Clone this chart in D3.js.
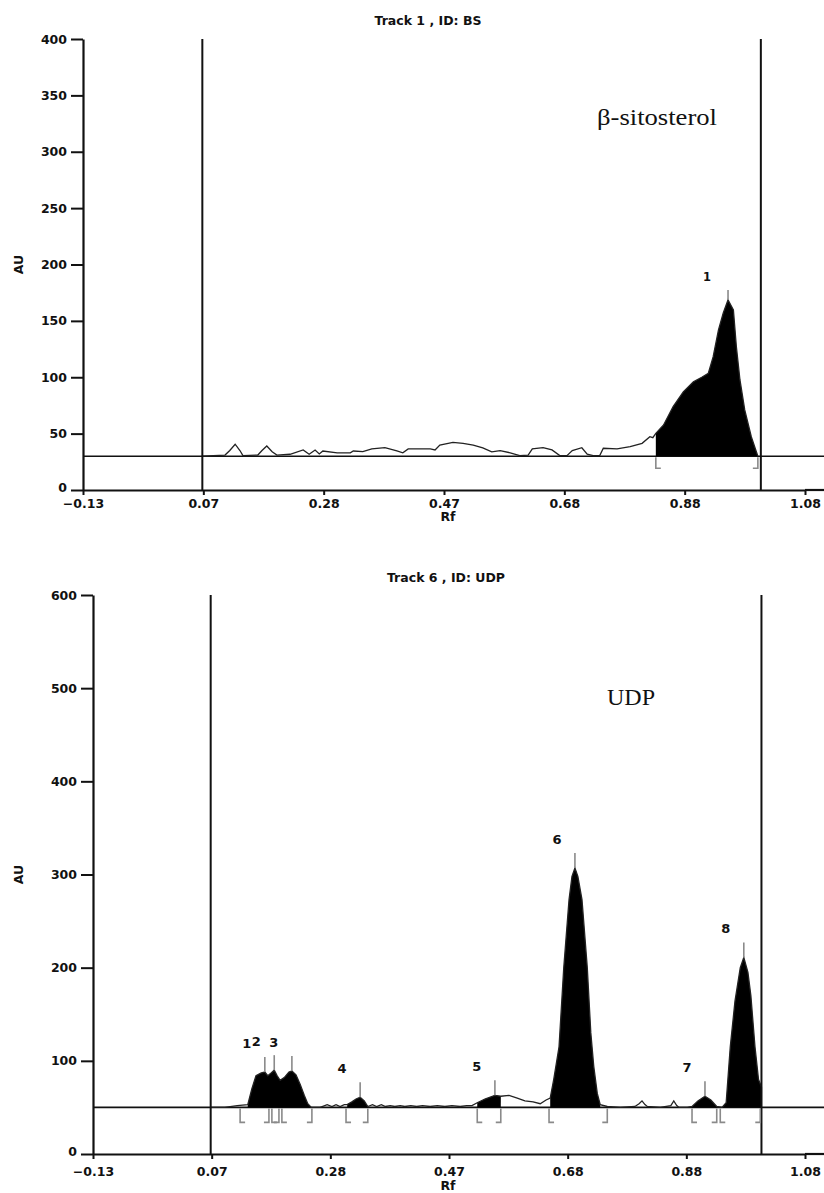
<!DOCTYPE html>
<html>
<head>
<meta charset="utf-8">
<script src="https://cdnjs.cloudflare.com/ajax/libs/d3/7.8.5/d3.min.js"></script>
<style>
body{margin:0;background:#fff;}
svg text{font-family:"DejaVu Sans",sans-serif;font-weight:bold;fill:#111;}
</style>
</head>
<body>
<div id="chart"></div>
<script>
// Rf axis (shared by both tracks)
const rfStart = -0.13, rfEnd = 1.08;
const rfTickLabels = ["\u22120.13","0.07","0.28","0.47","0.68","0.88","1.08"];
const rfLines = [0.07, 1.006];   // application line, solvent front

// Track 1 : beta-sitosterol
const bsTicks = [0,50,100,150,200,250,300,350,400];
const bsBaseline = 30;
const bsTrace = [
[0.069,30],[0.108,31],[0.116,35],[0.125,40.6],[0.133,35],[0.138,30.5],[0.163,31],[0.170,35],
[0.178,39],[0.187,34],[0.195,31],[0.217,31.7],[0.239,35.5],[0.249,31.7],[0.259,35.5],[0.266,32],
[0.272,34.6],[0.296,33],[0.318,33],[0.323,34.6],[0.339,34],[0.354,36.4],[0.376,37.5],[0.396,34.6],
[0.406,33],[0.415,36.4],[0.440,36.4],[0.452,36.4],[0.460,35.5],[0.468,39.9],[0.490,42.3],[0.507,41.4],
[0.524,39.9],[0.540,37.4],[0.555,33.8],[0.569,35],[0.586,33],[0.602,30.5],[0.616,31],[0.623,36.4],
[0.641,37.5],[0.656,35.5],[0.669,30.5],[0.681,30.5],[0.690,35],[0.706,37.5],[0.715,31.7],[0.725,30.5],
[0.736,30.5],[0.742,37],[0.765,36.4],[0.787,38.5],[0.807,41.4],[0.820,47.3],[0.825,46.4],
[0.830,50.3],[0.843,57.7],[0.859,74],[0.876,87],[0.893,96],[0.907,100],[0.918,103.5],[0.926,118],
[0.935,142],[0.943,157],[0.951,168.6],[0.960,159.8],[0.965,127],[0.971,97.6],[0.979,71],[0.990,47.3],
[1.001,30]
];
const bsFills = [[0.830,1.001]];
const bsBrackets = [[0.830,1.001]];
const bsPeaks = [{id:"1", rf:0.951, au:168.6}];

// Track 6 : UDP
const udpTicks = [0,100,200,300,400,500,600];
const udpBaseline = 50;
const udpTrace = [
[0.070,50],[0.094,50],[0.115,52],[0.133,53],[0.140,70],[0.147,84],[0.156,87],[0.162,88],
[0.167,84],[0.171,86],[0.178,90],[0.183,84],[0.188,79],[0.195,82],[0.203,88],[0.208,89],
[0.215,85],[0.222,75],[0.229,63],[0.235,54],[0.241,50],[0.256,50],[0.268,53],[0.276,51],
[0.283,53],[0.290,51],[0.297,53],[0.302,53],[0.310,56],[0.317,59],[0.324,61],[0.331,57],
[0.337,51],[0.345,53],[0.352,51],[0.360,53],[0.367,51],[0.375,52],[0.383,51],[0.392,52],
[0.400,51],[0.410,52],[0.420,51],[0.430,52],[0.443,51],[0.455,52],[0.468,51],[0.480,52],
[0.494,51],[0.505,52],[0.514,52],[0.523,55],[0.536,59],[0.553,63],[0.563,62],[0.577,63],
[0.591,60],[0.604,57],[0.618,56],[0.630,54],[0.640,58],[0.647,60],[0.653,80],[0.662,115],
[0.670,200],[0.679,273],[0.684,298],[0.689,307],[0.694,298],[0.701,273],[0.710,200],[0.716,130],
[0.721,94],[0.727,65],[0.732,53],[0.744,51],[0.766,50],[0.791,51],[0.798,54],[0.803,57],
[0.808,53],[0.812,51],[0.834,50],[0.852,52],[0.857,57],[0.862,52],[0.866,50],[0.880,50],
[0.888,51],[0.898,57],[0.910,62],[0.920,58],[0.930,51],[0.939,50],[0.946,55],[0.953,115],
[0.961,164],[0.970,200],[0.976,211],[0.983,195],[0.988,170],[0.995,115],[1.001,80],[1.006,72],
[1.006,50]
];
const udpFills = [[0.133,0.241],[0.302,0.337],[0.523,0.563],[0.647,0.732],[0.888,0.930],[0.939,1.006]];
const udpBrackets = [[0.120,0.169],[0.174,0.186],[0.191,0.242],[0.300,0.337],[0.523,0.563],
                     [0.645,0.744],[0.888,0.930],[0.936,1.004]];
const udpPeaks = [
{id:"1", rf:0.162, au:88},{id:"2", rf:0.178, au:90},{id:"3", rf:0.208, au:89},
{id:"4", rf:0.324, au:61},{id:"5", rf:0.553, au:63},{id:"6", rf:0.689, au:307},
{id:"7", rf:0.910, au:62},{id:"8", rf:0.976, au:211}
];


const W = 824, H = 1193;
const svg = d3.select("#chart").append("svg")
  .attr("width", W).attr("height", H);


function createChart(o){

const g = svg.append("g");

// scales
const x = d3.scaleLinear().domain([rfStart, rfEnd]).range([o.left, 805]);
const y = d3.scaleLinear().domain([0, o.yMax]).range([o.bottom, o.top]);

const rfTicks = rfTickLabels.map((d,i) => rfStart + i*(rfEnd - rfStart)/(rfTickLabels.length-1));

// baseline
g.append("line")
  .attr("x1", o.left).attr("x2", W)
  .attr("y1", y(o.baseline)).attr("y2", y(o.baseline))
  .attr("stroke", "#111").attr("stroke-width", 1.6);

// integrated peak areas
const area = d3.area()
  .x(d => x(d[0]))
  .y0(y(o.baseline))
  .y1(d => y(d[1]));

o.fills.forEach(f => {
  const pts = o.trace.filter(d => d[0] >= f[0]-1e-6 && d[0] <= f[1]+1e-6);
  g.append("path").attr("d", area(pts)).attr("fill", "#000");
});

// scan trace
const line = d3.line().x(d => x(d[0])).y(d => y(d[1]));
g.append("path").datum(o.trace)
  .attr("d", line)
  .attr("fill", "none")
  .attr("stroke", "#222")
  .attr("stroke-width", 1.3);

// start / front lines
g.selectAll(".vline").data(rfLines).enter().append("line")
  .attr("x1", d => x(d)).attr("x2", d => x(d))
  .attr("y1", y(o.yMax)).attr("y2", y(0))
  .attr("stroke", "#111").attr("stroke-width", 2);

// peak boundaries
const bh = o.bracketH, ft = 5;
o.brackets.forEach(b => {
  const y0 = y(o.baseline) + 1;
  g.append("path")
    .attr("d", `M${x(b[0])+ft},${y0+bh} H${x(b[0])} V${y0}`)
    .attr("fill","none").attr("stroke","#8a8a8a").attr("stroke-width",1.6);
  g.append("path")
    .attr("d", `M${x(b[1])-ft},${y0+bh} H${x(b[1])} V${y0}`)
    .attr("fill","none").attr("stroke","#8a8a8a").attr("stroke-width",1.6);
});

// peak max markers + numbers
g.selectAll(".mark").data(o.peaks).enter().append("line")
  .attr("x1", d => x(d.rf)).attr("x2", d => x(d.rf))
  .attr("y1", d => y(d.au)).attr("y2", d => y(d.au) - o.markH)
  .attr("stroke", "#8a8a8a").attr("stroke-width", 1.6);

g.selectAll(".plabel").data(o.peaks).enter().append("text")
  .attr("x", d => x(d.rf) - o.labelDx)
  .attr("y", d => y(d.au) - o.markH - 9)
  .attr("text-anchor", "middle")
  .style("font-size", o.labelSize + "px")
  .text(d => d.id);

// Y axis
const ya = g.append("g")
  .attr("transform", `translate(${o.left},0)`)
  .call(d3.axisLeft(y).tickValues(o.ticks).tickSize(12).tickPadding(4).tickSizeOuter(0));

// X axis
const xa = g.append("g")
  .attr("transform", `translate(0,${o.bottom})`)
  .call(d3.axisBottom(x).tickValues(rfTicks).tickSize(5).tickPadding(o.xPad).tickSizeOuter(0)
        .tickFormat((d,i) => rfTickLabels[i]));
xa.append("line")
  .attr("x1", x(rfEnd)).attr("x2", W)
  .attr("stroke", "#111").attr("stroke-width", 2.2);

[ya, xa].forEach(a => {
  a.select(".domain").attr("stroke", "#111").attr("stroke-width", 2.2);
  a.selectAll(".tick line").attr("stroke", "#111").attr("stroke-width", 2);
  a.selectAll(".tick text").attr("fill", "#111")
    .style("font-size", "12.5px").style("font-family", "DejaVu Sans").style("font-weight", "bold");
});
// lift the "0" label a little so it clears the Rf labels
ya.selectAll(".tick text").filter(d => d === 0).attr("dy", "0.1em");

// titles
g.append("text")
  .attr("x", o.titleX).attr("y", o.titleY)
  .attr("text-anchor", "middle")
  .style("font-size", "12.5px")
  .text(o.title);

g.append("text")
  .attr("transform", `translate(23,${(y(0)+y(o.yMax))/2}) rotate(-90)`)
  .attr("text-anchor", "middle")
  .style("font-size", "12.5px")
  .text("AU");

g.append("text")
  .attr("x", 448).attr("y", o.rfY)
  .attr("text-anchor", "middle")
  .style("font-size", "12.5px")
  .text("Rf");

g.append("text")
  .attr("x", o.nameX).attr("y", o.nameY)
  .attr("textLength", o.nameW).attr("lengthAdjust", "spacingAndGlyphs")
  .style("font-family", "'Liberation Serif', serif")
  .style("font-weight", "normal")
  .style("font-size", "24px")
  .text(o.name);
}


createChart({
  title:"Track 1 , ID: BS", titleX:428, titleY:25,
  left:83, top:39, bottom:490, yMax:400, ticks:bsTicks, xPad:4, rfY:521,
  baseline:bsBaseline, trace:bsTrace, fills:bsFills, brackets:bsBrackets, peaks:bsPeaks,
  bracketH:11, markH:10, labelDx:21, labelSize:11.5,
  name:"\u03B2-sitosterol", nameX:597, nameY:125, nameW:120
});

createChart({
  title:"Track 6 , ID: UDP", titleX:446, titleY:582,
  left:93, top:595, bottom:1154, yMax:600, ticks:udpTicks, xPad:8, rfY:1190,
  baseline:udpBaseline, trace:udpTrace, fills:udpFills, brackets:udpBrackets, peaks:udpPeaks,
  bracketH:14, markH:15, labelDx:18, labelSize:13,
  name:"UDP", nameX:607, nameY:705, nameW:48
});
</script>
</body>
</html>
